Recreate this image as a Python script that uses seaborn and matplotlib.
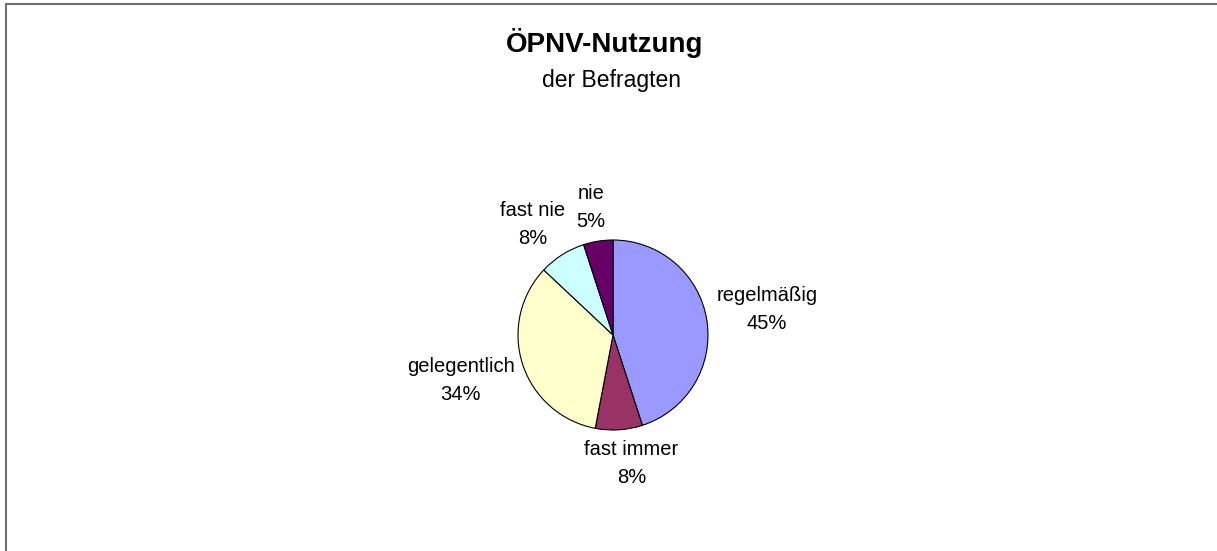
"""
Pie chart of public transport (ÖPNV) usage among respondents.
Saves out.png (1217x551).
"""

import numpy as np
import matplotlib
matplotlib.use("Agg")
import matplotlib.pyplot as plt
from matplotlib.patches import Rectangle
import seaborn as sns

# Data (clockwise from 12 o'clock).
CATEGORIES = ["regelmäßig", "fast immer", "gelegentlich", "fast nie", "nie"]
SHARES = [45, 8, 34, 8, 5]
COLORS = ["#9999FF", "#993366", "#FFFFCC", "#CCFFFF", "#660066"]

TITLE = "ÖPNV-Nutzung"
SUBTITLE = "der Befragten"

W, H = 1217, 551
CX, CY, R = 613, 335, 95  # pie centre / radius in pixels (y from top)


def main():
    sns.set_theme(style="white")
    plt.rcParams["font.family"] = ["Liberation Sans", "DejaVu Sans"]

    fig = plt.figure(figsize=(W / 100, H / 100), dpi=100)
    fig.patch.set_facecolor("white")
    ax = fig.add_axes([0, 0, 1, 1])

    wedges, _ = ax.pie(
        SHARES,
        colors=sns.color_palette(COLORS),
        startangle=90,
        counterclock=False,
        radius=1,
        wedgeprops=dict(edgecolor="black", linewidth=0.8),
    )
    # one data unit == pie radius, pixels stay square
    ax.set_xlim(-CX / R, (W - CX) / R)
    ax.set_ylim(-(H - CY) / R, CY / R)
    ax.set_aspect("auto")
    ax.axis("off")

    # labels outside the wedges, Excel style: box pushed outwards
    fig.canvas.draw()
    renderer = fig.canvas.get_renderer()
    gap = 1 + 10 / R
    for wedge, cat, share in zip(wedges, CATEGORIES, SHARES):
        ang = np.deg2rad((wedge.theta1 + wedge.theta2) / 2)
        ux, uy = np.cos(ang), np.sin(ang)
        t = ax.text(0, 0, f"{cat}\n{share}%", ha="center", va="center",
                    fontsize=14.5, linespacing=1.6, color="black")
        bb = t.get_window_extent(renderer)
        w, h = bb.width / R, bb.height / R
        sx = np.sign(ux) * np.sqrt(abs(ux))
        sy = np.sign(uy) * np.sqrt(abs(uy))
        t.set_position((gap * ux + w / 2 * sx, gap * uy + h / 2 * sy))

    fig.text(605 / W, 1 - 43 / H, TITLE, ha="center", va="center",
             fontsize=20, fontweight="bold", color="black")
    fig.text(611 / W, 1 - 80 / H, SUBTITLE, ha="center", va="center",
             fontsize=16.5, color="black")

    # chart area frame (right/bottom edges lie outside the image)
    fig.add_artist(Rectangle((6 / W, -0.1), 1.2, 1.1 - 4 / H, fill=False,
                             edgecolor="#707070", linewidth=1.5,
                             transform=fig.transFigure))

    fig.savefig("out.png", dpi=100, facecolor="white")
    plt.close(fig)


if __name__ == "__main__":
    main()
